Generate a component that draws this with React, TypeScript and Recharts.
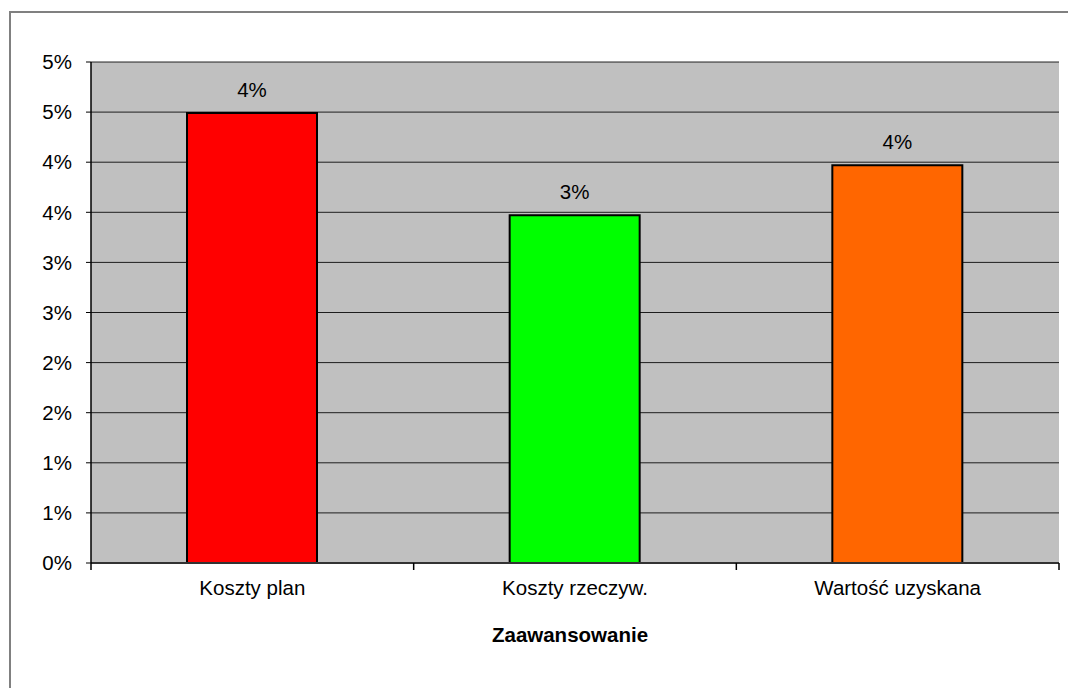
import React from 'react';
import { BarChart, Bar, XAxis, YAxis, CartesianGrid, LabelList, Cell } from 'recharts';

const categories = ['Koszty plan', 'Koszty rzeczyw.', 'Wartość uzyskana'];
const values = [4.49, 3.47, 3.97];
const valueLabels = ['4%', '3%', '4%'];
const barColors = ['#FF0000', '#00FF00', '#FF6600'];
const yTickValues = [0, 0.5, 1, 1.5, 2, 2.5, 3, 3.5, 4, 4.5, 5];
const yTickLabels = ['0%', '1%', '1%', '2%', '2%', '3%', '3%', '4%', '4%', '5%', '5%'];
const xTitle = 'Zaawansowanie';

const data = categories.map((name, i) => ({ name, value: values[i], label: valueLabels[i] }));

const FONT = '"Liberation Sans", Arial, sans-serif';
const FS = 20.5;

function CategoryTick(props: any) {
  const { x, y, payload, index, visibleTicksCount } = props;
  const half = payload && payload.offset ? payload.offset : 0;
  const axisY = y - 17;
  const last = index === (visibleTicksCount ?? categories.length) - 1;
  return (
    <g>
      <line x1={x - half} x2={x - half} y1={axisY} y2={axisY + 7} stroke="#000" strokeWidth={1.5} />
      {last && <line x1={x + half} x2={x + half} y1={axisY} y2={axisY + 7} stroke="#000" strokeWidth={1.5} />}
      <text x={x} y={y} dy="0.71em" textAnchor="middle" fill="#000" fontSize={FS} fontFamily={FONT}>
        {payload.value}
      </text>
    </g>
  );
}

export default function App() {
  return (
    <div style={{ position: 'absolute', left: 0, top: 0, width: 1068, height: 688, overflow: 'hidden', background: '#fff', fontFamily: FONT }}>
      <div style={{ position: 'absolute', left: 9, top: 11, width: 1200, height: 800, borderLeft: '2px solid #808080', borderTop: '2px solid #808080' }} />
      <div style={{ position: 'absolute', left: 0, top: 0 }}>
        <BarChart width={1068} height={688} data={data} margin={{ top: 62, right: 9, bottom: 45, left: 0 }} barSize={130}>
          <CartesianGrid vertical={false} fill="#C0C0C0" stroke="#000" strokeOpacity={0.85} yAxisId="l" xAxisId="c" />
          <XAxis
            xAxisId="c"
            dataKey="name"
            height={80}
            axisLine={{ stroke: '#333', strokeWidth: 2 }}
            tickLine={false}
            tickSize={6}
            tickMargin={11}
            interval={0}
            tick={<CategoryTick />}
            label={{ value: xTitle, position: 'insideBottom', offset: 1, dx: -5, fill: '#000', fontSize: FS, fontWeight: 'bold', fontFamily: FONT }}
          />
          <XAxis xAxisId="t" dataKey="name" orientation="top" height={0} tick={false} tickLine={false} axisLine={{ stroke: '#808080', strokeWidth: 2 }} />
          <YAxis
            yAxisId="l"
            domain={[0, 5]}
            ticks={yTickValues}
            width={91}
            interval={0}
            axisLine={{ stroke: '#000', strokeWidth: 1.5 }}
            tickLine={{ stroke: '#000' }}
            tickSize={5}
            tickMargin={14}
            tick={{ fill: '#000', fontSize: FS, fontFamily: FONT }}
            tickFormatter={(v: number) => yTickLabels[yTickValues.indexOf(v)]}
          />
          <YAxis yAxisId="r" orientation="right" domain={[0, 5]} width={0} tick={false} tickLine={false} axisLine={{ stroke: '#808080', strokeWidth: 2 }} />
          <Bar dataKey="value" xAxisId="c" yAxisId="l" stroke="#000" strokeWidth={2} isAnimationActive={false}>
            {data.map((d, i) => (
              <Cell key={d.name} fill={barColors[i]} />
            ))}
            <LabelList dataKey="label" position="top" offset={16} fill="#000" fontSize={FS} fontFamily={FONT} />
          </Bar>
        </BarChart>
      </div>
    </div>
  );
}
